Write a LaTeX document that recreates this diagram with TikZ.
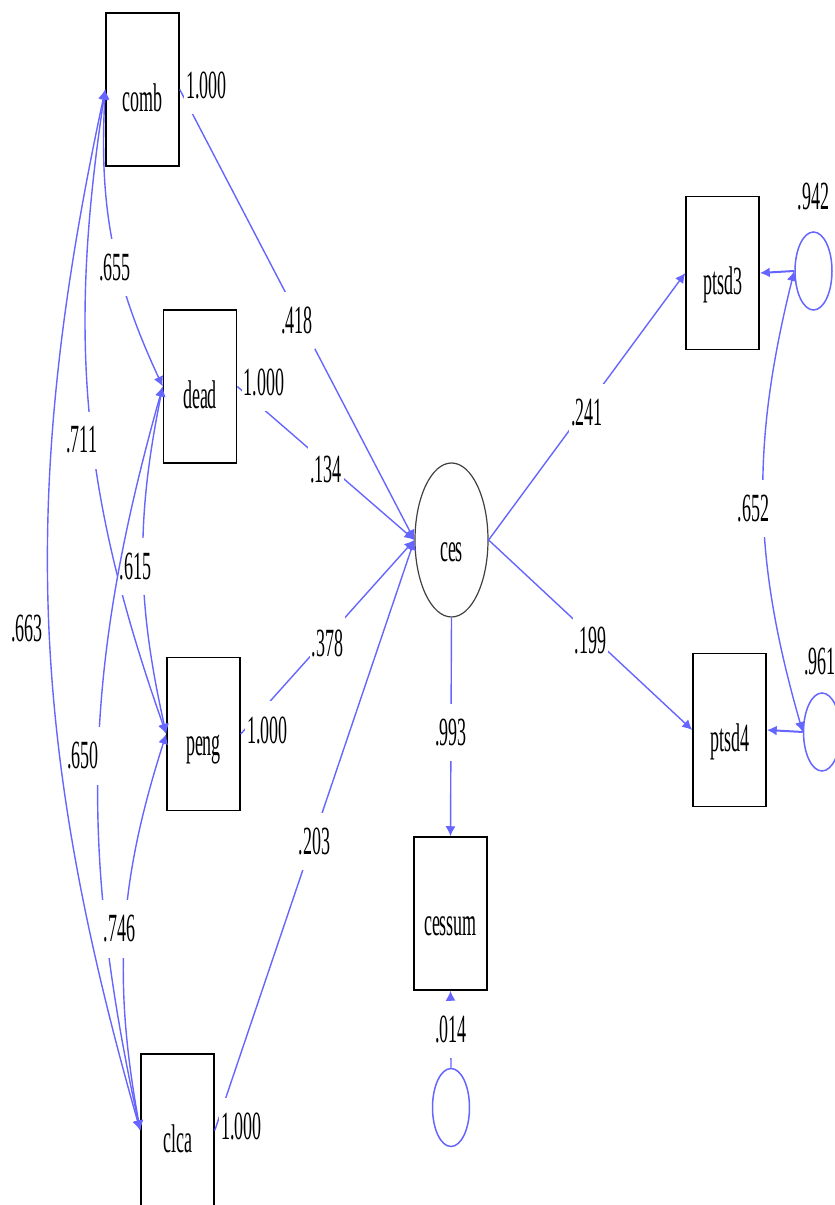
\documentclass[tikz,border=0pt]{standalone}
\usepackage{fontspec}
\setmainfont{Liberation Serif}[FakeStretch=0.45]
\usetikzlibrary{arrows.meta,positioning,shapes.geometric}

\definecolor{pathblue}{RGB}{102,102,255}

\tikzset{
    obs/.style={draw=black, line width=0.75pt, minimum width=36.5pt, minimum height=76.5pt,
        inner sep=0pt, text height=22pt, text depth=0pt},
    lat/.style={ellipse, draw=black!75, line width=0.6pt, minimum width=36.5pt, minimum height=77pt,
        inner sep=0pt, text height=22pt, text depth=0pt},
    err/.style={ellipse, draw=pathblue, line width=0.75pt, minimum width=18.5pt, minimum height=39pt, inner sep=0pt},
    reg/.style={pathblue, line width=0.7pt, -{Latex[length=5pt,width=5pt]}},
    cov/.style={pathblue, line width=0.7pt, {Latex[length=5pt,width=5pt]}-{Latex[length=5pt,width=5pt]}},
    coef/.style={fill=white, text=black, inner xsep=1pt, inner ysep=7.5pt, yshift=-3pt},
    fixed/.style={fill=white, text=black, inner xsep=1pt, inner ysep=7.5pt, pos=0, anchor=west, xshift=2pt, yshift=2pt},
    var/.style={inner sep=0pt}
}

\begin{document}
\begin{tikzpicture}[x=0.5pt, y=0.5pt, font=\fontsize{20}{24}\selectfont]
    \useasboundingbox (0,0) rectangle (835,1205);

    % indicators of ces
    \node[obs] (comb) at (142.5,1115.5) {comb};
    \node[obs] (dead) at (200,818.5) {dead};
    \node[obs] (peng) at (203.5,471) {peng};
    \node[obs] (clca) at (177.5,74.5) {clca};

    \node[lat] (ces) at (451.5,665) {ces};
    \node[obs] (cessum) at (450.5,291.5) {cessum};
    \node[obs] (ptsd3) at (722.5,932) {ptsd3};
    \node[obs] (ptsd4) at (729.5,475) {ptsd4};

    \node[err] (e0) at (451,97.5) {};
    \node[err] (e3) at (813.5,934) {};
    \node[err] (e4) at (822,473) {};
    \node[var, above=10.5pt of e3] (v3) {.942};
    \node[var, above=8.5pt of e4, xshift=-1pt] (v4) {.961};

    % paths into ces
    \draw[reg] (comb.east) -- node[fixed] (s1) {1.000} node[coef] (b1) {.418} (ces.west);
    \draw[reg] (dead.east) -- node[fixed] (s2) {1.000} node[coef] (b2) {.134} (ces.west);
    \draw[reg] (peng.east) -- node[fixed] (s3) {1.000} node[coef] (b3) {.378} (ces.west);
    \draw[reg] (clca.east) -- node[fixed] (s4) {1.000} node[coef] (b4) {.203} (ces.west);

    % paths out of ces
    \draw[reg] (ces.east) -- node[coef] (b5) {.241} (ptsd3.west);
    \draw[reg] (ces.east) -- node[coef] (b6) {.199} (ptsd4.west);
    \draw[reg] (ces.south) -- node[coef] (b7) {.993} (cessum.north);
    \draw[reg] (e0.north) -- node[coef, yshift=3pt] (v0) {.014} (cessum.south);
    \draw[reg, line width=1pt] (e3.west) -- (ptsd3.east);
    \draw[reg, line width=1pt] (e4.west) -- (ptsd4.east);

    % covariances
    \draw[cov] (comb.west) to[bend right=14] node[coef, pos=0.57, xshift=-1pt] (c1) {.655} (dead.west);
    \draw[cov] (comb.west) to[bend right=14] node[coef, pos=0.53, xshift=-5pt] (c2) {.711} (peng.west);
    \draw[cov] (comb.west) to[bend right=14] node[coef, pos=0.51, xshift=-11pt] (c3) {.663} (clca.west);
    \draw[cov] (dead.west) to[bend right=12] node[coef, xshift=-4pt] (c4) {.615} (peng.west);
    \draw[cov] (dead.west) to[bend right=14] node[coef, pos=0.49, xshift=-8pt] (c5) {.650} (clca.west);
    \draw[cov] (peng.west) to[bend right=14] node[coef, pos=0.48, xshift=-3pt] (c6) {.746} (clca.west);
    \draw[cov] (e3.west) to[bend right=15] node[coef, xshift=-5pt] (c7) {.652} (e4.west);
\end{tikzpicture}
\end{document}
